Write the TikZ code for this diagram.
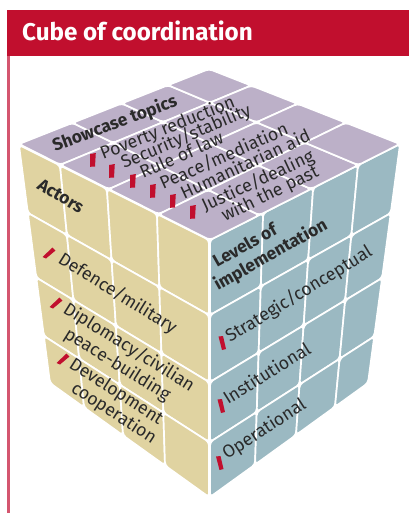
\documentclass[tikz,border=0pt]{standalone}
\usepackage{fontspec}
\setmainfont{Fira Sans}
\definecolor{hdr}{HTML}{C10F2E}
\definecolor{rulepink}{HTML}{D4566F}
\definecolor{topc}{HTML}{BCB0C8}
\definecolor{leftc}{HTML}{E0D3A1}
\definecolor{rightc}{HTML}{9BB9C2}
\definecolor{ink}{HTML}{2A2A2A}
\newcommand{\facegrid}[2]{%
  \foreach \i in {0,...,4} \foreach \j in {0,...,4} {
    \coordinate (#1-\i-\j) at (intersection cs: first line={(#1-u\i)--(#1-U\i)}, second line={(#1-v\j)--(#1-V\j)});
  }
  \foreach \i in {0,...,3} \foreach \j in {0,...,3} {
    \pgfmathtruncatemacro{\ii}{\i+1}
    \pgfmathtruncatemacro{\jj}{\j+1}
    \path[cell, fill=#2] (#1-\i-\j) -- (#1-\ii-\j) -- (#1-\ii-\jj) -- (#1-\i-\jj) -- cycle;
  }
}
\newcommand{\setpts}[2]{% prefix, list of points
  \foreach \px/\py [count=\n from 0] in {#2} { \coordinate (#1\n) at (\px,\py); }
}
\tikzset{
  cell/.style={draw=white, line width=1.7pt, rounded corners=3.5pt, line join=round},
  lbl/.style={anchor=base west, inner sep=0pt, text=ink, font=\fontsize{17.8}{17.8}\selectfont},
  blbl/.style={lbl, font=\fontsize{17.4}{17.4}\selectfont\bfseries},
  redbar/.style={fill=hdr}
}
\begin{document}
\begin{tikzpicture}[x=1pt,y=-1pt]
\useasboundingbox (0,0) rectangle (409,513);
\fill[white] (0,0) rectangle (409,513);
\fill[rulepink] (7,56) rectangle (9.5,513);
\fill[hdr] (7,10) rectangle (409,56);
\node[anchor=base west, inner sep=0pt, text=white, font=\fontsize{24.2}{24.2}\selectfont\bfseries] (title) at (22,41) {Cube of coordination};

% left face
\setpts{L-u}{19/145,60/165,107/190,157/215,209/240}
\setpts{L-U}{50/383,84/407,123/435,165/465,209/497}
\setpts{L-v}{19/145,28/213,37/278,44/336,50/383}
\setpts{L-V}{209/240,209/315,209/382,209/442,209/497}
\facegrid{L}{leftc}
% right face
\setpts{R-u}{210/240,263/217,313/190,358/165,400/144}
\setpts{R-U}{210/497,255/465,296/435,335/407,368/383}
\setpts{R-v}{210/240,210/315,210/382,210/442,210/497}
\setpts{R-V}{400/144,391/213,382/278,375/336,368/383}
\facegrid{R}{rightc}
% top face
\setpts{T-u}{19/144,60/165,107/190,157/215,210/240}
\setpts{T-U}{209/69,250/86,297/104,345/123,400/144}
\setpts{T-v}{19/144,73/123,123/104,170/86,209/69}
\setpts{T-V}{210/240,263/217,313/190,358/165,400/144}
\facegrid{T}{topc}

% top labels
\node[blbl, rotate=20.5] (showcase) at (55,152) {Showcase topics};
\foreach \x/\y in {93/160,112/171,133/181,153/191,173/201,193/212}
  \fill[redbar, shift={(\x,\y)}] (-2.8,-6) -- (2.8,-7) -- (2,6.5) -- (-2.8,6.8) -- cycle;
\node[lbl, rotate=21.7] (t1) at (103,160) {Poverty reduction};
\node[lbl, rotate=23] (t2) at (124,169) {Security/stability};
\node[lbl, rotate=24] (t3) at (143,179) {Rule of law};
\node[lbl, rotate=24] (t4) at (163,190) {Peace/mediation};
\node[lbl, rotate=25] (t5) at (184,200) {Humanitarian aid};
\node[lbl, rotate=25] (t6) at (205,212) {Justice/dealing};
\node[lbl, rotate=26] (t7) at (225,222) {with the past};

% left labels
\node[blbl, rotate=-31] (actors) at (36,188) {Actors};
\foreach \x/\y in {49/252,56/302,63/358}
  \fill[redbar, shift={(\x,\y)}] (-6.5,5) -- (3.5,-4.5) -- (6.5,-1.5) -- (-3,6.5) -- cycle;
\node[lbl, rotate=-32] (l1) at (57,262) {Defence/military};
\node[lbl, rotate=-32] (l2) at (62,312) {Diplomacy/civilian};
\node[lbl, rotate=-32] (l3) at (63,337) {peace-building};
\node[lbl, rotate=-32.7] (l4) at (68,367) {Development};
\node[lbl, rotate=-33] (l5) at (70,391) {cooperation};

% right labels
\node[blbl, rotate=29.5] (r0a) at (217,268) {Levels of};
\node[blbl, rotate=29.5] (r0b) at (218,291) {implementation};
\foreach \x/\y in {222/343,221/406,219.5/463}
  \fill[redbar, shift={(\x,\y)}] (-3.5,-6.5) -- (1,-7) -- (4,6) -- (0,7) -- cycle;
\node[lbl, rotate=31.5] (r1) at (230,343) {Strategic/conceptual};
\node[lbl, rotate=32] (r2) at (228,405) {Institutional};
\node[lbl, rotate=33] (r3) at (227,460) {Operational};
\end{tikzpicture}
\end{document}
